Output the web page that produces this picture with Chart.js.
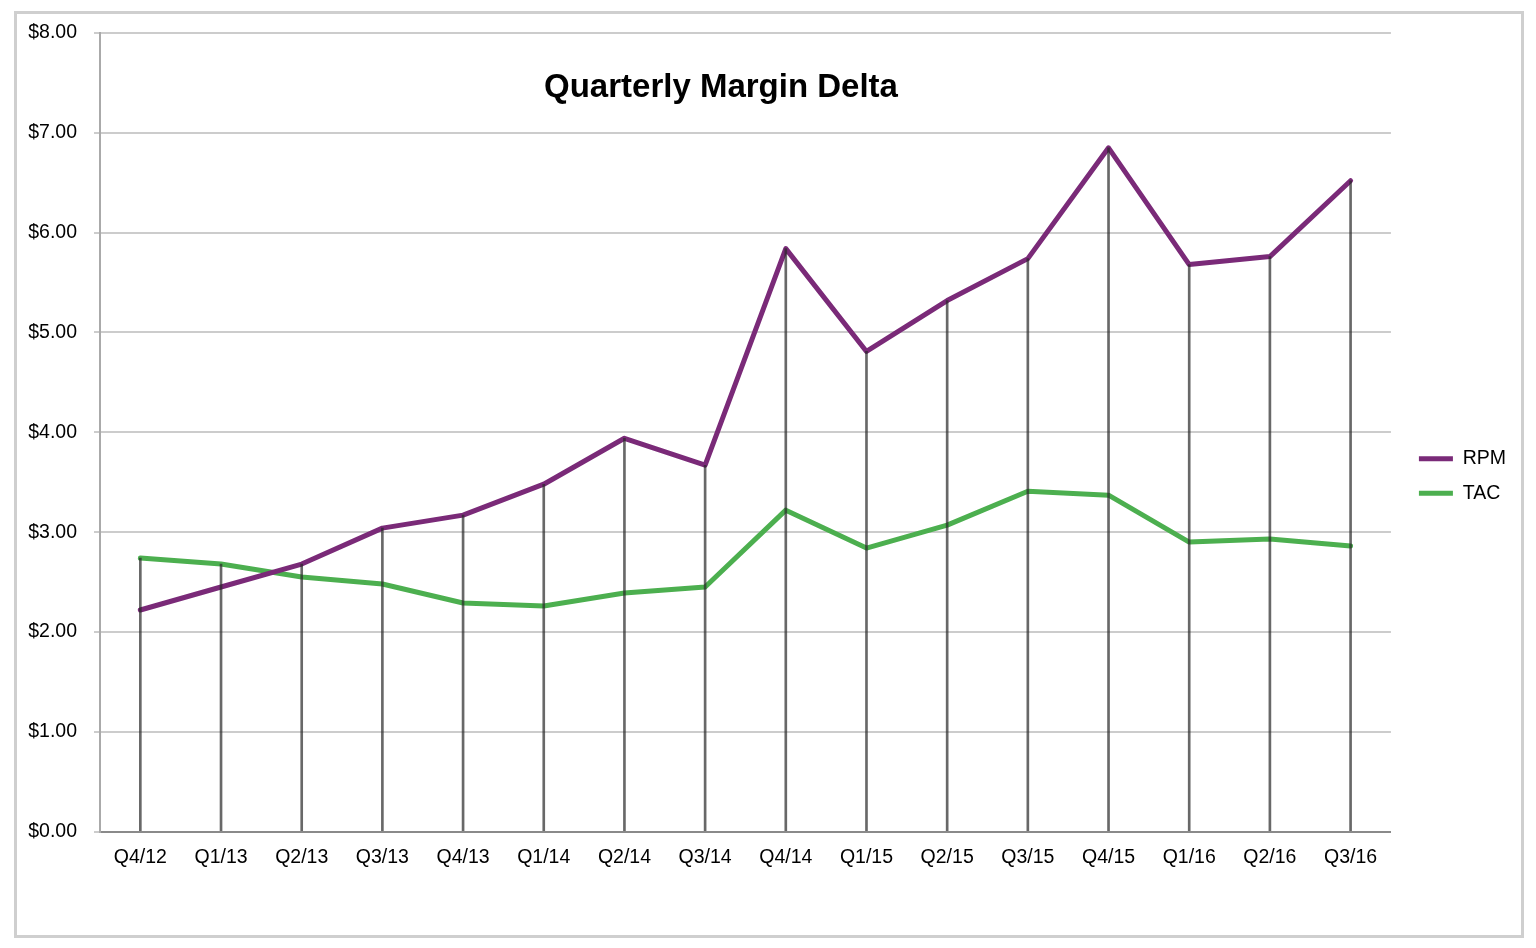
<!DOCTYPE html>
<html>
<head>
<meta charset="utf-8">
<script src="https://cdn.jsdelivr.net/npm/chart.js@4/dist/chart.umd.min.js"></script>
<style>
  html, body { margin: 0; padding: 0; background: #fff; }
  #frame { position: absolute; left: 14px; top: 11px; width: 1510px; height: 927px; border: 3px solid #cfcfcf; box-sizing: border-box; }
  #wrap { position: absolute; left: 0; top: 0; width: 1536px; height: 948px; }
</style>
</head>
<body>
<div id="frame"></div>
<div id="wrap"><canvas id="c"></canvas></div>
<script>
const categories = ['Q4/12','Q1/13','Q2/13','Q3/13','Q4/13','Q1/14','Q2/14','Q3/14','Q4/14','Q1/15','Q2/15','Q3/15','Q4/15','Q1/16','Q2/16','Q3/16'];
const rpm = [2.22, 2.45, 2.68, 3.04, 3.17, 3.48, 3.94, 3.67, 5.84, 4.81, 5.32, 5.74, 6.85, 5.68, 5.76, 6.52];
const tac = [2.74, 2.68, 2.55, 2.48, 2.29, 2.26, 2.39, 2.45, 3.22, 2.84, 3.07, 3.41, 3.37, 2.90, 2.93, 2.86];
const yTicks = [0, 1, 2, 3, 4, 5, 6, 7, 8];
const dropTops = rpm.map((v, i) => Math.max(v, tac[i]));

const FONT = "'Liberation Sans', Arial, sans-serif";

const titlePlugin = {
  id: 'innerTitle',
  afterDraw(chart) {
    const ctx = chart.ctx;
    ctx.save();
    ctx.font = "bold 33px " + FONT;
    ctx.fillStyle = '#000';
    ctx.textAlign = 'center';
    ctx.textBaseline = 'middle';
    ctx.fillText('Quarterly Margin Delta', 721, 88);
    ctx.restore();
  }
};

const legendShift = {
  id: 'legendShift',
  afterLayout(chart) {
    const lg = chart.legend;
    if (lg) { lg.top += 18; lg.bottom += 18; lg.left += 13; lg.right += 13; }
  }
};

new Chart(document.getElementById('c'), {
  type: 'line',
  data: {
    labels: categories,
    datasets: [
      {
        type: 'bar',
        label: 'drop',
        data: dropTops,
        backgroundColor: 'rgba(40,40,40,0.7)',
        barThickness: 2,
        order: 0
      },
      {
        label: 'RPM',
        data: rpm,
        borderColor: '#7a2a78',
        backgroundColor: '#7a2a78',
        borderWidth: 5,
        pointRadius: 0,
        tension: 0,
        borderJoinStyle: 'round',
        borderCapStyle: 'round',
        order: 1
      },
      {
        label: 'TAC',
        data: tac,
        borderColor: '#4caf4f',
        backgroundColor: '#4caf4f',
        borderWidth: 5,
        pointRadius: 0,
        tension: 0,
        borderJoinStyle: 'round',
        borderCapStyle: 'round',
        order: 2
      }
    ]
  },
  options: {
    responsive: true,
    maintainAspectRatio: false,
    animation: false,
    layout: { padding: { left: 0, right: 33, top: 33, bottom: 65 } },
    plugins: {
      title: { display: false },
      tooltip: { enabled: false },
      legend: {
        position: 'right',
        labels: {
          font: { family: FONT, size: 19.5 },
          color: '#000',
          boxWidth: 34,
          boxHeight: 5,
          padding: 15,
          filter: (item) => item.text !== 'drop',
          generateLabels(chart) {
            return chart.data.datasets.map((ds, i) => ({
              text: ds.label,
              fillStyle: ds.borderColor,
              strokeStyle: ds.borderColor,
              lineWidth: 0,
              hidden: false,
              datasetIndex: i,
              fontColor: '#000'
            }));
          }
        }
      }
    },
    scales: {
      x: {
        offset: true,
        grid: { display: false, drawTicks: false },
        border: { display: true, color: '#8a8a8a', width: 2 },
        ticks: { font: { family: FONT, size: 19.5 }, color: '#000', padding: 14, maxRotation: 0, autoSkip: false }
      },
      y: {
        min: 0,
        max: 8,
        afterFit(scale) { scale.width = 100; },
        afterBuildTicks(scale) { scale.ticks = yTicks.map(v => ({ value: v })); },
        grid: { color: '#cccccc', lineWidth: 2, tickLength: 6, drawTicks: true },
        border: { display: true, color: '#aaaaaa', width: 2 },
        ticks: {
          font: { family: FONT, size: 19.5 },
          color: '#000',
          padding: 17,
          callback: (v) => '$' + Number(v).toFixed(2)
        }
      }
    }
  },
  plugins: [titlePlugin, legendShift]
});
</script>
</body>
</html>
